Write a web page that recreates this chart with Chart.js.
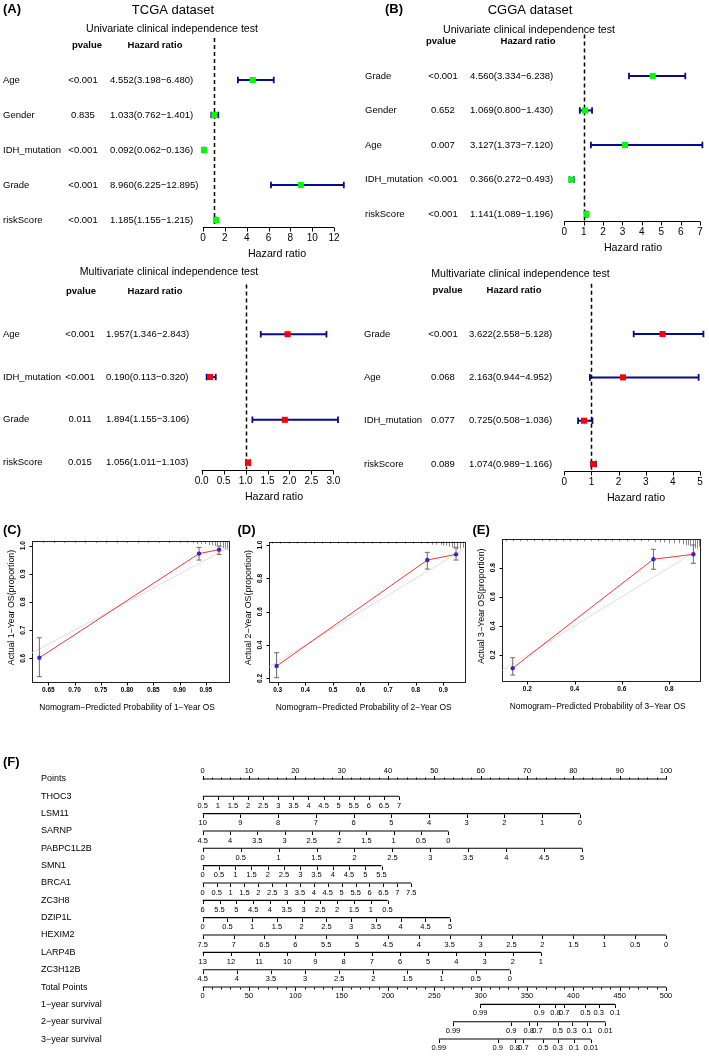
<!DOCTYPE html>
<html>
<head>
<meta charset="utf-8">
<script src="https://cdn.jsdelivr.net/npm/chart.js@4.4.0/dist/chart.umd.min.js"></script>
<style>
  html, body { margin: 0; padding: 0; background: #fff; }
  #wrap { position: relative; width: 709px; height: 1056px; overflow: hidden; background: #fff; }
  #wrap canvas { position: absolute; left: 0; top: 0; pointer-events: none; }
</style>
</head>
<body>
<div id="wrap"></div>
<script>
// ---------- data ----------
// (A) TCGA univariate
var tcgaUniVars = ['Age', 'Gender', 'IDH_mutation', 'Grade', 'riskScore'];
var tcgaUniP = ['<0.001', '0.835', '<0.001', '<0.001', '<0.001'];
var tcgaUniHR = [4.552, 1.033, 0.092, 8.960, 1.185];
var tcgaUniLow = [3.198, 0.762, 0.062, 6.225, 1.155];
var tcgaUniHigh = [6.480, 1.401, 0.136, 12.895, 1.215];
var tcgaUniTicks = [0, 2, 4, 6, 8, 10, 12];
// (A) TCGA multivariate
var tcgaMultiVars = ['Age', 'IDH_mutation', 'Grade', 'riskScore'];
var tcgaMultiP = ['<0.001', '<0.001', '0.011', '0.015'];
var tcgaMultiHR = [1.957, 0.190, 1.894, 1.056];
var tcgaMultiLow = [1.346, 0.113, 1.155, 1.011];
var tcgaMultiHigh = [2.843, 0.320, 3.106, 1.103];
var tcgaMultiTicks = [0, 0.5, 1, 1.5, 2, 2.5, 3];
var tcgaMultiTickLabels = ['0.0', '0.5', '1.0', '1.5', '2.0', '2.5', '3.0'];
// (B) CGGA univariate
var cggaUniVars = ['Grade', 'Gender', 'Age', 'IDH_mutation', 'riskScore'];
var cggaUniP = ['<0.001', '0.652', '0.007', '<0.001', '<0.001'];
var cggaUniHR = [4.560, 1.069, 3.127, 0.366, 1.141];
var cggaUniLow = [3.334, 0.800, 1.373, 0.272, 1.089];
var cggaUniHigh = [6.238, 1.430, 7.120, 0.493, 1.196];
var cggaUniTicks = [0, 1, 2, 3, 4, 5, 6, 7];
// (B) CGGA multivariate
var cggaMultiVars = ['Grade', 'Age', 'IDH_mutation', 'riskScore'];
var cggaMultiP = ['<0.001', '0.068', '0.077', '0.089'];
var cggaMultiHR = [3.622, 2.163, 0.725, 1.074];
var cggaMultiLow = [2.558, 0.944, 0.508, 0.989];
var cggaMultiHigh = [5.128, 4.952, 1.036, 1.166];
var cggaMultiTicks = [0, 1, 2, 3, 4, 5];

// (C)(D)(E) calibration: predicted, observed, error bar limits, rug at top
var cal1Pred = [0.633, 0.937, 0.975];
var cal1Obs = [0.602, 0.972, 0.986];
var cal1Lo = [0.535, 0.949, 0.969];
var cal1Hi = [0.673, 0.994, 0.999];
var cal1XTicks = [0.65, 0.70, 0.75, 0.80, 0.85, 0.90, 0.95];
var cal1XLabels = ['0.65', '0.70', '0.75', '0.80', '0.85', '0.90', '0.95'];
var cal1YTicks = [0.6, 0.7, 0.8, 0.9, 1.0];
var cal1YLabels = ['0.6', '0.7', '0.8', '0.9', '1.0'];
var cal1RugX = [0.64, 0.66, 0.68, 0.70, 0.72, 0.74, 0.76, 0.78, 0.80, 0.82, 0.84, 0.86, 0.88, 0.90, 0.915, 0.925, 0.933, 0.941, 0.948, 0.955, 0.961, 0.967, 0.972, 0.977, 0.982, 0.986, 0.990];
var cal1RugN = [1, 1, 1, 1, 1, 1, 1, 1, 1, 1, 1, 1, 1, 1, 1, 1, 2, 2, 2, 3, 3, 4, 4, 5, 6, 7, 8];

var cal2Pred = [0.296, 0.842, 0.946];
var cal2Obs = [0.274, 0.910, 0.944];
var cal2Lo = [0.204, 0.856, 0.910];
var cal2Hi = [0.354, 0.956, 0.986];
var cal2XTicks = [0.3, 0.4, 0.5, 0.6, 0.7, 0.8, 0.9];
var cal2XLabels = ['0.3', '0.4', '0.5', '0.6', '0.7', '0.8', '0.9'];
var cal2YTicks = [0.2, 0.4, 0.6, 0.8, 1.0];
var cal2YLabels = ['0.2', '0.4', '0.6', '0.8', '1.0'];
var cal2RugX = [0.28, 0.31, 0.34, 0.37, 0.40, 0.43, 0.46, 0.49, 0.52, 0.55, 0.58, 0.61, 0.64, 0.67, 0.70, 0.73, 0.76, 0.79, 0.82, 0.84, 0.86, 0.875, 0.89, 0.90, 0.91, 0.92, 0.93, 0.94, 0.95, 0.96, 0.97];
var cal2RugN = [1, 1, 1, 1, 1, 1, 1, 1, 1, 1, 1, 1, 1, 1, 1, 1, 1, 1, 1, 1, 2, 2, 2, 3, 3, 4, 5, 6, 7, 6, 5];

var cal3Pred = [0.138, 0.734, 0.903];
var cal3Obs = [0.109, 0.858, 0.892];
var cal3Lo = [0.062, 0.789, 0.830];
var cal3Hi = [0.181, 0.926, 0.956];
var cal3XTicks = [0.2, 0.4, 0.6, 0.8];
var cal3XLabels = ['0.2', '0.4', '0.6', '0.8'];
var cal3YTicks = [0.2, 0.4, 0.6, 0.8];
var cal3YLabels = ['0.2', '0.4', '0.6', '0.8'];
var cal3RugX = [0.11, 0.14, 0.17, 0.20, 0.23, 0.26, 0.29, 0.32, 0.35, 0.38, 0.41, 0.44, 0.47, 0.50, 0.53, 0.56, 0.59, 0.62, 0.65, 0.68, 0.71, 0.74, 0.76, 0.78, 0.80, 0.82, 0.84, 0.86, 0.87, 0.88, 0.89, 0.90, 0.91, 0.92, 0.925];
var cal3RugN = [1, 1, 1, 1, 1, 1, 1, 1, 1, 1, 1, 1, 1, 1, 1, 1, 1, 1, 1, 1, 1, 2, 2, 2, 3, 3, 3, 4, 5, 5, 6, 7, 8, 8, 6];

// (F) nomogram
var nomoVars = ['THOC3', 'LSM11', 'SARNP', 'PABPC1L2B', 'SMN1', 'BRCA1', 'ZC3H8', 'DZIP1L', 'HEXIM2', 'LARP4B', 'ZC3H12B'];
var nomoTicks = [
  [0.5, 1, 1.5, 2, 2.5, 3, 3.5, 4, 4.5, 5, 5.5, 6, 6.5, 7],
  [10, 9, 8, 7, 6, 5, 4, 3, 2, 1, 0],
  [4.5, 4, 3.5, 3, 2.5, 2, 1.5, 1, 0.5, 0],
  [0, 0.5, 1, 1.5, 2, 2.5, 3, 3.5, 4, 4.5, 5],
  [0, 0.5, 1, 1.5, 2, 2.5, 3, 3.5, 4, 4.5, 5, 5.5],
  [0, 0.5, 1, 1.5, 2, 2.5, 3, 3.5, 4, 4.5, 5, 5.5, 6, 6.5, 7, 7.5],
  [6, 5.5, 5, 4.5, 4, 3.5, 3, 2.5, 2, 1.5, 1, 0.5],
  [0, 0.5, 1, 1.5, 2, 2.5, 3, 3.5, 4, 4.5, 5],
  [7.5, 7, 6.5, 6, 5.5, 5, 4.5, 4, 3.5, 3, 2.5, 2, 1.5, 1, 0.5, 0],
  [13, 12, 11, 10, 9, 8, 7, 6, 5, 4, 3, 2, 1],
  [4.5, 4, 3.5, 3, 2.5, 2, 1.5, 1, 0.5, 0]
];
var nomoMaxPoints = [42.4, 81.4, 53.0, 81.9, 38.6, 45.0, 39.9, 53.4, 100, 73.0, 66.3];
var pointsTicks = [0, 10, 20, 30, 40, 50, 60, 70, 80, 90, 100];
var totalTicks = [0, 50, 100, 150, 200, 250, 300, 350, 400, 450, 500];
var survNames = ['1\u2212year survival', '2\u2212year survival', '3\u2212year survival'];
var surv1Labels = ['0.99', '0.9', '0.8', '0.7', '0.5', '0.3', '0.1'];
var surv1Total = [299.3, 363.3, 380.7, 390.1, 413.1, 427.5, 445.2];
var surv2Labels = ['0.99', '0.9', '0.8', '0.7', '0.5', '0.3', '0.1', '0.01'];
var surv2Total = [270.1, 333.0, 351.9, 361.3, 383.1, 398.2, 415.1, 434.5];
var surv3Labels = ['0.99', '0.9', '0.8', '0.7', '0.5', '0.3', '0.1', '0.01'];
var surv3Total = [254.8, 318.5, 336.8, 346.2, 367.6, 383.1, 400.7, 418.8];

// ---------- helpers ----------
var W = 709, H = 1056;
var FONT = '"Liberation Sans", Arial, Helvetica, sans-serif';
var BLUE = '#0a0a8c';

function txt(ctx, s, x, y, size, o) {
  o = o || {};
  ctx.save();
  ctx.font = (o.bold ? 'bold ' : '') + size + 'px ' + FONT;
  ctx.fillStyle = o.color || '#000';
  ctx.textAlign = o.align || 'center';
  ctx.textBaseline = 'middle';
  ctx.translate(x, y);
  if (o.rot) ctx.rotate(o.rot);
  ctx.fillText(s, 0, 0);
  ctx.restore();
}

function crisp(v) { return Math.round(v) + 0.5; }

// R style axis: line from first to last tick, ticks pointing out
function axisH(ctx, scale, y, ticks, labels, o) {
  y = crisp(y);
  ctx.save();
  ctx.strokeStyle = '#000';
  ctx.lineWidth = o.lw || 1;
  ctx.beginPath();
  if (o.line !== false) {
    ctx.moveTo(scale.getPixelForValue(ticks[0]), y);
    ctx.lineTo(scale.getPixelForValue(ticks[ticks.length - 1]), y);
  }
  ticks.forEach(function (t) {
    var x = crisp(scale.getPixelForValue(t));
    ctx.moveTo(x, y);
    ctx.lineTo(x, y + o.tick);
  });
  ctx.stroke();
  ctx.restore();
  ticks.forEach(function (t, i) {
    txt(ctx, labels[i], scale.getPixelForValue(t), y + o.gap, o.size, {bold: o.bold});
  });
}

function axisV(ctx, scale, x, ticks, labels, o) {
  x = crisp(x);
  ctx.save();
  ctx.strokeStyle = '#000';
  ctx.lineWidth = 1;
  ctx.beginPath();
  ticks.forEach(function (t) {
    var y = crisp(scale.getPixelForValue(t));
    ctx.moveTo(x, y);
    ctx.lineTo(x - o.tick, y);
  });
  ctx.stroke();
  ctx.restore();
  ticks.forEach(function (t, i) {
    txt(ctx, labels[i], x - o.gap, scale.getPixelForValue(t), o.size, {bold: o.bold, rot: -Math.PI / 2});
  });
}

function makeChart(area, scales, datasets, plugin) {
  var c = document.createElement('canvas');
  c.width = W; c.height = H;
  c.style.width = W + 'px'; c.style.height = H + 'px';
  document.getElementById('wrap').appendChild(c);
  var sc = {};
  Object.keys(scales).forEach(function (k) {
    sc[k] = Object.assign({type: 'linear', display: false}, scales[k]);
  });
  return new Chart(c.getContext('2d'), {
    type: 'scatter',
    data: {datasets: datasets},
    options: {
      responsive: false,
      animation: false,
      events: [],
      layout: {padding: {left: area.l, top: area.t, right: W - area.r, bottom: H - area.b}},
      scales: sc,
      plugins: {legend: {display: false}, tooltip: {enabled: false}, title: {display: false}}
    },
    plugins: [plugin]
  });
}

function hrText(h, l, u) {
  return h.toFixed(3) + '(' + l.toFixed(3) + '\u2212' + u.toFixed(3) + ')';
}

// ---------- forest plots ----------
function forest(d, lay) {
  var n = d.vars.length;
  var pts = [], ci = [];
  d.hr.forEach(function (v, i) {
    pts.push({x: v, y: n - i});
    ci.push({x: d.low[i], y: n - i}, {x: d.high[i], y: n - i}, {x: null, y: null});
  });
  var ext = 0.04 * n;
  var plugin = {
    id: 'forest',
    beforeDatasetsDraw: function (chart) {
      var ctx = chart.ctx, xs = chart.scales.x, ys = chart.scales.y, a = chart.chartArea;
      // whisker caps
      ctx.save();
      ctx.strokeStyle = BLUE;
      ctx.lineWidth = 1.8;
      ctx.beginPath();
      d.hr.forEach(function (v, i) {
        var y = ys.getPixelForValue(n - i);
        [d.low[i], d.high[i]].forEach(function (e) {
          var x = xs.getPixelForValue(e);
          ctx.moveTo(x, y - 3.3);
          ctx.lineTo(x, y + 3.3);
        });
      });
      ctx.stroke();
      ctx.restore();
      // table text
      var hy = ys.getPixelForValue(n + 1);
      txt(ctx, 'pvalue', lay.hp, hy, 9.5, {bold: true});
      txt(ctx, 'Hazard ratio', lay.hh, hy, 9.5, {bold: true});
      d.vars.forEach(function (name, i) {
        var y = ys.getPixelForValue(n - i);
        txt(ctx, name, lay.lab, y, 9.5, {align: 'left'});
        txt(ctx, d.p[i], lay.p, y, 9.5);
        txt(ctx, hrText(d.hr[i], d.low[i], d.high[i]), lay.hrx, y, 9.5, {align: 'left'});
      });
      txt(ctx, lay.title, lay.tx, lay.ty, 10.6);
      axisH(ctx, xs, a.bottom, d.ticks, d.tickLabels || d.ticks.map(String), {tick: 4, gap: 10.5, size: 10});
      txt(ctx, 'Hazard ratio', lay.xlx, a.bottom + 27.5, 10.7);
      if (lay.extra) lay.extra(ctx);
    },
    afterDatasetDraw: function (chart, args) {
      if (args.index !== 1) return;
      var ctx = chart.ctx, a = chart.chartArea;
      var x = crisp(chart.scales.x.getPixelForValue(1));
      ctx.save();
      ctx.strokeStyle = '#000';
      ctx.lineWidth = 1.5;
      ctx.setLineDash([4, 3]);
      ctx.beginPath();
      ctx.moveTo(x, a.top);
      ctx.lineTo(x, a.bottom);
      ctx.stroke();
      ctx.restore();
    }
  };
  makeChart(lay.area,
    {x: {min: 0, max: Math.max.apply(null, d.high)}, y: {min: 1 - ext, max: n + 1 + ext}},
    [
      {data: pts, pointStyle: 'rect', pointRadius: 4.3, pointBackgroundColor: d.color, pointBorderColor: d.color, pointBorderWidth: 0, clip: false},
      {data: ci, showLine: true, borderColor: BLUE, borderWidth: 2, pointRadius: 0, spanGaps: false, clip: false}
    ], plugin);
}

forest({vars: tcgaUniVars, p: tcgaUniP, hr: tcgaUniHR, low: tcgaUniLow, high: tcgaUniHigh, ticks: tcgaUniTicks, color: '#00ff00'},
  {area: {l: 203, r: 343.8, t: 38, b: 227}, lab: 3, p: 83, hrx: 110, hp: 87, hh: 155,
   title: 'Univariate clinical independence test', tx: 172, ty: 29, xlx: 277,
   extra: function (ctx) {
     txt(ctx, '(A)', 3, 9, 13, {bold: true, align: 'left'});
     txt(ctx, 'TCGA dataset', 173, 10, 13);
   }});

forest({vars: tcgaMultiVars, p: tcgaMultiP, hr: tcgaMultiHR, low: tcgaMultiLow, high: tcgaMultiHigh, ticks: tcgaMultiTicks, tickLabels: tcgaMultiTickLabels, color: '#ff0000'},
  {area: {l: 201.7, r: 338, t: 284.5, b: 469.5}, lab: 3, p: 80, hrx: 106, hp: 81, hh: 155,
   title: 'Multivariate clinical independence test', tx: 169, ty: 272, xlx: 274});

forest({vars: cggaUniVars, p: cggaUniP, hr: cggaUniHR, low: cggaUniLow, high: cggaUniHigh, ticks: cggaUniTicks, color: '#00ff00'},
  {area: {l: 564.3, r: 702.4, t: 34.5, b: 221}, lab: 365, p: 443, hrx: 470, hp: 441, hh: 528,
   title: 'Univariate clinical independence test', tx: 529, ty: 30, xlx: 633,
   extra: function (ctx) {
     txt(ctx, '(B)', 385, 9, 13, {bold: true, align: 'left'});
     txt(ctx, 'CGGA dataset', 530, 10, 13);
   }});

forest({vars: cggaMultiVars, p: cggaMultiP, hr: cggaMultiHR, low: cggaMultiLow, high: cggaMultiHigh, ticks: cggaMultiTicks, color: '#ff0000'},
  {area: {l: 564.3, r: 703.4, t: 283.8, b: 471}, lab: 364, p: 443, hrx: 469, hp: 447.5, hh: 514,
   title: 'Multivariate clinical independence test', tx: 520.5, ty: 274, xlx: 636});

// ---------- calibration curves ----------
function calib(d, lay) {
  var pts = d.pred.map(function (p, i) { return {x: p, y: d.obs[i]}; });
  var bars = [];
  d.pred.forEach(function (p, i) {
    bars.push({x: p, y: d.lo[i]}, {x: p, y: d.hi[i]}, {x: null, y: null});
  });
  var plugin = {
    id: 'calib',
    beforeDatasetsDraw: function (chart) {
      var ctx = chart.ctx, xs = chart.scales.x, ys = chart.scales.y, a = chart.chartArea;
      ctx.save();
      // distribution of predictions along the top
      ctx.strokeStyle = '#8c8c8c';
      ctx.lineWidth = 1;
      ctx.beginPath();
      d.rugX.forEach(function (v, i) {
        var x = crisp(xs.getPixelForValue(v));
        ctx.moveTo(x, a.top);
        ctx.lineTo(x, a.top + 1 + d.rugN[i]);
      });
      ctx.stroke();
      // error bar caps
      ctx.strokeStyle = '#6a6a6a';
      ctx.beginPath();
      d.pred.forEach(function (p, i) {
        var x = xs.getPixelForValue(p);
        [d.lo[i], d.hi[i]].forEach(function (e) {
          var y = ys.getPixelForValue(e);
          ctx.moveTo(x - 2.5, y);
          ctx.lineTo(x + 2.5, y);
        });
      });
      ctx.stroke();
      // box
      ctx.strokeStyle = '#222';
      ctx.strokeRect(crisp(a.left), crisp(a.top), Math.round(a.right - a.left), Math.round(a.bottom - a.top));
      ctx.restore();
      axisH(ctx, xs, a.bottom, d.xTicks, d.xLabels, {tick: 3, gap: 8, size: 6.5, bold: true, line: false});
      axisV(ctx, ys, a.left, d.yTicks, d.yLabels, {tick: 3, gap: 9.5, size: 6.5, bold: true});
      txt(ctx, 'Nomogram\u2212Predicted Probability of ' + d.year + '\u2212Year OS', (a.left + a.right) / 2 - 3.5, a.bottom + 25.5, 8.4);
      txt(ctx, 'Actual ' + d.year + '\u2212Year OS(proportion)', a.left - 20.5, (a.top + a.bottom) / 2 - 4, 8.8, {rot: -Math.PI / 2});
      txt(ctx, lay.tag, lay.tagX, 530, 13, {bold: true, align: 'left'});
    }
  };
  makeChart(lay.area, {x: {min: lay.x[0], max: lay.x[1]}, y: {min: lay.y[0], max: lay.y[1]}}, [
    {data: pts, pointRadius: 2.2, pointBackgroundColor: '#3a24c4', pointBorderColor: '#3a24c4', pointBorderWidth: 0, clip: false},
    {data: pts, showLine: true, borderColor: '#ff3333', borderWidth: 1, pointRadius: 0, clip: false},
    {data: bars, showLine: true, borderColor: '#6a6a6a', borderWidth: 1, pointRadius: 0, spanGaps: false, clip: false},
    {data: [{x: 0, y: 0}, {x: 1, y: 1}], showLine: true, borderColor: '#dedede', borderWidth: 1, pointRadius: 0}
  ], plugin);
}

calib({year: '1', pred: cal1Pred, obs: cal1Obs, lo: cal1Lo, hi: cal1Hi, xTicks: cal1XTicks, xLabels: cal1XLabels,
       yTicks: cal1YTicks, yLabels: cal1YLabels, rugX: cal1RugX, rugN: cal1RugN},
  {area: {l: 32, r: 229, t: 541, b: 682}, x: [0.619, 0.994], y: [0.516, 1.0167], tag: '(C)', tagX: 3});
calib({year: '2', pred: cal2Pred, obs: cal2Obs, lo: cal2Lo, hi: cal2Hi, xTicks: cal2XTicks, xLabels: cal2XLabels,
       yTicks: cal2YTicks, yLabels: cal2YLabels, rugX: cal2RugX, rugN: cal2RugN},
  {area: {l: 269.3, r: 465, t: 541.7, b: 681.7}, x: [0.2696, 0.9786], y: [0.18, 1.02], tag: '(D)', tagX: 237.5});
calib({year: '3', pred: cal3Pred, obs: cal3Obs, lo: cal3Lo, hi: cal3Hi, xTicks: cal3XTicks, xLabels: cal3XLabels,
       yTicks: cal3YTicks, yLabels: cal3YLabels, rugX: cal3RugX, rugN: cal3RugN},
  {area: {l: 502.3, r: 700, t: 539.3, b: 681}, x: [0.094, 0.931], y: [0.021, 0.995], tag: '(E)', tagX: 472.5});

// ---------- nomogram ----------
(function () {
  var nv = nomoVars.length;
  var survLabels = [surv1Labels, surv2Labels, surv3Labels];
  var survTotal = [surv1Total, surv2Total, surv3Total];
  var rowTotal = nv + 1, rowSurv = nv + 2;

  function toPts(k, v) {
    var t = nomoTicks[k], v0 = t[0], v1 = t[t.length - 1];
    return nomoMaxPoints[k] * (v - v0) / (v1 - v0);
  }

  var ptLines = [{x: 0, y: 0}, {x: 100, y: 0}, {x: null, y: null}];
  nomoVars.forEach(function (name, k) {
    ptLines.push({x: 0, y: k + 1}, {x: nomoMaxPoints[k], y: k + 1}, {x: null, y: null});
  });
  var totLines = [{x: 0, y: rowTotal}, {x: 500, y: rowTotal}, {x: null, y: null}];
  survTotal.forEach(function (arr, s) {
    totLines.push({x: arr[0], y: rowSurv + s}, {x: arr[arr.length - 1], y: rowSurv + s}, {x: null, y: null});
  });

  function ticksAt(ctx, scale, vals, y, len) {
    ctx.beginPath();
    vals.forEach(function (v) {
      var x = crisp(scale.getPixelForValue(v));
      ctx.moveTo(x, y);
      ctx.lineTo(x, y + len);
    });
    ctx.stroke();
  }

  var plugin = {
    id: 'nomo',
    afterDatasetsDraw: function (chart) {
      var ctx = chart.ctx, xs = chart.scales.x, xt = chart.scales.xt, ys = chart.scales.y;
      var rows = ['Points'].concat(nomoVars, ['Total Points'], survNames);
      rows.forEach(function (r, i) {
        txt(ctx, r, 41, ys.getPixelForValue(i), 9, {align: 'left'});
      });
      ctx.save();
      ctx.strokeStyle = '#000';
      ctx.lineWidth = 1;
      // points axis, ticks upward
      var y0 = crisp(ys.getPixelForValue(0));
      var minor = [];
      for (var m = 0; m <= 100; m += 2) minor.push(m);
      ticksAt(ctx, xs, minor, y0, -2);
      ticksAt(ctx, xs, pointsTicks, y0, -3.5);
      // variable axes
      nomoVars.forEach(function (name, k) {
        var y = crisp(ys.getPixelForValue(k + 1));
        ticksAt(ctx, xs, nomoTicks[k].map(function (v) { return toPts(k, v); }), y, 3.5);
      });
      // total points
      var yt = crisp(ys.getPixelForValue(rowTotal));
      var minorT = [];
      for (var q = 0; q <= 500; q += 10) minorT.push(q);
      ticksAt(ctx, xt, minorT, yt, 2);
      ticksAt(ctx, xt, totalTicks, yt, 3.5);
      survTotal.forEach(function (arr, s) {
        ticksAt(ctx, xt, arr, crisp(ys.getPixelForValue(rowSurv + s)), 3.5);
      });
      ctx.restore();
      // tick labels
      pointsTicks.forEach(function (v) {
        txt(ctx, String(v), xs.getPixelForValue(v), y0 - 9, 7.5);
      });
      nomoVars.forEach(function (name, k) {
        var y = ys.getPixelForValue(k + 1);
        nomoTicks[k].forEach(function (v) {
          txt(ctx, String(v), xs.getPixelForValue(toPts(k, v)), y + 9.5, 7.5);
        });
      });
      totalTicks.forEach(function (v) {
        txt(ctx, String(v), xt.getPixelForValue(v), yt + 8.5, 7.5);
      });
      survTotal.forEach(function (arr, s) {
        var y = ys.getPixelForValue(rowSurv + s);
        arr.forEach(function (v, i) {
          txt(ctx, survLabels[s][i], xt.getPixelForValue(v), y + 9, 7.5);
        });
      });
      txt(ctx, '(F)', 3, 762, 13, {bold: true, align: 'left'});
    }
  };

  makeChart({l: 202.7, r: 666, t: 770.3, b: 1047.7},
    {x: {min: 0, max: 100}, xt: {min: 0, max: 500}, y: {min: -0.5, max: rowSurv + 2.5, reverse: true}},
    [
      {data: ptLines, showLine: true, borderColor: '#000', borderWidth: 1.1, pointRadius: 0, spanGaps: false, clip: false},
      {data: totLines, xAxisID: 'xt', showLine: true, borderColor: '#000', borderWidth: 1.1, pointRadius: 0, spanGaps: false, clip: false}
    ], plugin);
})();
</script>
</body>
</html>
